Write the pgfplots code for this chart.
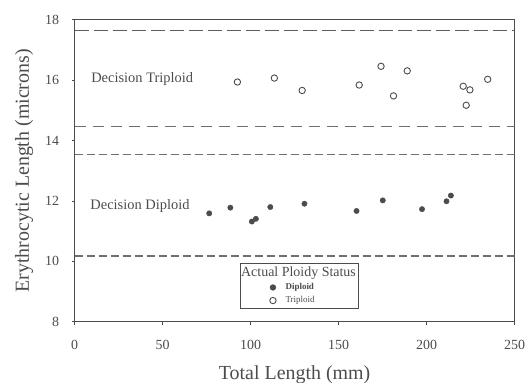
\documentclass[border=0pt]{standalone}
\usepackage{fontspec}
\setmainfont{Liberation Serif}
\usepackage{pgfplots}
\pgfplotsset{compat=1.18}
\definecolor{ink}{gray}{0.3}
\begin{document}
\begin{tikzpicture}
\begin{axis}[
  scale only axis, width=440bp, height=302bp,
  at={(0,0)}, anchor=south west,
  xmin=0, xmax=250, ymin=8, ymax=18,
  xtick={0,50,...,250}, ytick={8,10,...,18},
  tick align=outside, xtick pos=bottom, ytick pos=left,
  major tick length=3bp,
  axis line style={ink, line width=1.3pt},
  every tick/.style={ink, line width=0.8pt},
  /pgf/number format/assume math mode=true,
  ticklabel style={font=\fontsize{14}{16}\selectfont, text=ink},
  xticklabel style={yshift=-12bp},
  yticklabel style={xshift=-9bp},
  xlabel={Total Length (mm)}, ylabel={Erythrocytic Length (microns)},
  label style={font=\fontsize{20}{22}\selectfont, text=ink},
  xlabel style={yshift=-9bp},
  ylabel style={yshift=5bp},
  legend style={at={(axis cs:94,9.95)}, anchor=north west, draw=ink, line width=0.9pt,
    font=\fontsize{9}{11}\selectfont\bfseries, text=ink, inner xsep=1pt, inner ysep=2.5pt,
    row sep=3pt, column sep=0pt, nodes={inner sep=1.2pt}},
  legend cell align=left,
  legend image code/.code={\path (0bp,0) (42bp,0); \draw[#1] plot coordinates {(31bp,0)};},
]
% decision lines
\addplot[ink!90, line width=1.4pt, dash pattern=on 14bp off 5bp, forget plot] coordinates {(0,17.65) (250,17.65)};
\addplot[ink!80, line width=1.2pt, dash pattern=on 11bp off 7bp, forget plot] coordinates {(0,14.46) (250,14.46)};
\addplot[ink!80, line width=1.2pt, dash pattern=on 8bp off 4bp, forget plot] coordinates {(0,13.55) (250,13.55)};
\addplot[ink!80, line width=1.2pt, dash pattern=on 8bp off 4bp, forget plot] coordinates {(0,10.18) (250,10.18)};
\addlegendimage{empty legend}
\addlegendentry{\hspace{-44.4bp}\mdseries\fontsize{14}{16}\selectfont Actual Ploidy Status}
% diploid
\addplot[only marks, mark=*, mark size=2.7pt, draw=ink, fill=ink] coordinates {
(76.5,11.59) (88.5,11.78) (100.7,11.32) (103.0,11.41) (111.2,11.80) (130.6,11.91)
(160.2,11.67) (175.1,12.02) (197.4,11.73) (211.3,11.99) (213.8,12.18)};
\addlegendentry{Diploid}
% triploid
\addplot[only marks, mark=o, mark size=3.2pt, draw=ink, line width=0.9pt] coordinates {
(92.5,15.94) (113.5,16.07) (129.3,15.66) (161.7,15.84) (174.1,16.46) (181.2,15.48)
(189.0,16.31) (220.8,15.80) (224.6,15.68) (222.5,15.17) (234.7,16.03)};
\addlegendentry{\mdseries Triploid\rule[-5bp]{0pt}{5bp}}
\node[anchor=west, text=ink, font=\fontsize{14.5}{16}\selectfont] at (axis cs:7.5,16.05) {Decision Triploid};
\node[anchor=west, text=ink, font=\fontsize{14.5}{16}\selectfont] at (axis cs:7,11.82) {Decision Diploid};
\end{axis}
\pgfresetboundingbox
\useasboundingbox (-74.6bp,-61.2bp) rectangle (452.4bp,321.8bp);
\end{tikzpicture}
\end{document}
